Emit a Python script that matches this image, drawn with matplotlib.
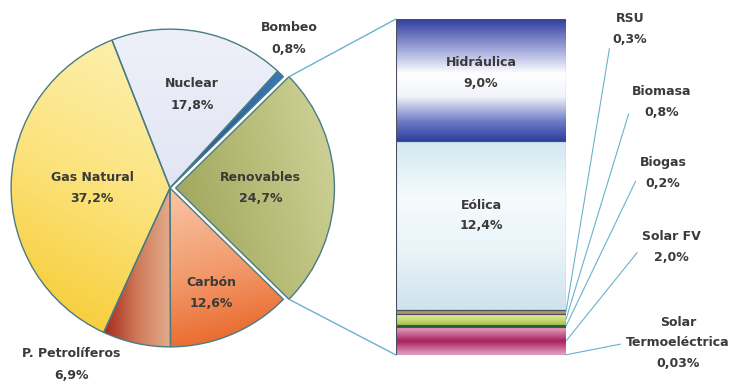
import numpy as np
import matplotlib.pyplot as plt
from matplotlib.colors import LinearSegmentedColormap
from matplotlib.patches import ConnectionPatch

# --- Data ---
pie_labels = ["Renovables", "Bombeo", "Nuclear", "Gas Natural", "P. Petrolíferos", "Carbón"]
pie_values = [24.7, 0.8, 17.8, 37.2, 6.9, 12.6]

# breakdown of "Renovables", bottom to top of the bar
bar_labels = ["Solar\nTermoeléctrica", "Solar FV", "Biogas", "Biomasa", "RSU", "Eólica", "Hidráulica"]
bar_values = [0.03, 2.0, 0.2, 0.8, 0.3, 12.4, 9.0]


def fmt(v):
    s = "%.2f" % v if v < 0.1 else "%.1f" % v
    return s.replace(".", ",") + "%"


# --- Styles ---
pie_grads = {
    "Renovables": (["#9aa256", "#b6bb76", "#d2d59c"], 20),
    "Bombeo": (["#1d4f8c", "#3a78b8"], 0),
    "Nuclear": (["#e2e5f4", "#eef0f9"], 90),
    "Gas Natural": (["#f6c92c", "#fbe27a", "#fdf2b6"], 75),
    "P. Petrolíferos": (["#a8281c", "#cf7a58", "#e3ad8e"], 0),
    "Carbón": (["#e85e1c", "#f29a6c", "#f8c6a6"], 100),
}
pie_label_pos = {
    "Renovables": (0.57, 0.0),
    "Bombeo": (0.75, 0.94),
    "Nuclear": (0.14, 0.59),
    "Gas Natural": (-0.49, 0.0),
    "P. Petrolíferos": (-0.62, -1.11),
    "Carbón": (0.26, -0.66),
}
bar_grads = {
    "Solar\nTermoeléctrica": (["#2a3040", "#2a3040"], 90),
    "Solar FV": (["#e6a6c4", "#a8205e", "#e8a8c6"], 90),
    "Biogas": (["#1e5a28", "#2f7034"], 90),
    "Biomasa": (["#a6c44c", "#e6f0a2"], 90),
    "RSU": (["#b89060", "#b89060"], 90),
    "Eólica": (["#cde3ee", "#e8f3f8", "#f6fbfd", "#d2e8f1"], 90),
    "Hidráulica": ([(0, "#3040a0"), (0.15, "#6a78c4"), (0.36, "#f2f3fa"),
                    (0.55, "#ffffff"), (0.76, "#9aa2d8"), (1, "#2e3c9c")], 90),
}
# label text centres (figure pixels, from the top) for the small renewables
side_label_pos = {
    "RSU": (630, 29),
    "Biomasa": (662, 102),
    "Biogas": (663, 173),
    "Solar FV": (671, 247),
    "Solar\nTermoeléctrica": (678, 343),
}

edge = "#4a7c84"
text_c = "#3a3a3a"
line_c = "#6ab2cc"
fs = 9
plt.rcParams["font.family"] = ["DejaVu Sans"]
plt.rcParams["font.weight"] = "bold"


def gradient_fill(ax, patch, colors, angle, zorder):
    cmap = LinearSegmentedColormap.from_list("g", colors)
    bb = patch.get_path().get_extents(patch.get_patch_transform())
    yy, xx = np.mgrid[0:1:200j, 0:1:200j]
    a = np.deg2rad(angle)
    t = xx * np.cos(a) + yy * np.sin(a)
    t = (t - t.min()) / (t.max() - t.min())
    im = ax.imshow(cmap(t), extent=[bb.x0, bb.x1, bb.y0, bb.y1], origin="lower",
                   aspect="auto", zorder=zorder, interpolation="bilinear")
    im.set_clip_path(patch)


W, H = 739, 387
fig = plt.figure(figsize=(W / 100, H / 100), dpi=100)

# --- Pie ---
lim = 1.07
ax_pie = fig.add_axes([0 / W, 29 / H, 340 / W, 340 / H])
explode = [0.035 if l == "Renovables" else 0 for l in pie_labels]
wedges, _ = ax_pie.pie(pie_values, explode=explode, startangle=-pie_values[0] / 100 * 180,
                       counterclock=True, radius=1,
                       wedgeprops=dict(edgecolor=edge, linewidth=1.0))
for w, lab, v in zip(wedges, pie_labels, pie_values):
    w.set_facecolor("none")
    w.set_zorder(3)
    cols, ang = pie_grads[lab]
    gradient_fill(ax_pie, w, cols, ang, 2)
    x, y = pie_label_pos[lab]
    ax_pie.text(x, y, lab + "\n" + fmt(v), ha="center", va="center", fontsize=fs,
                color=text_c, linespacing=1.85, zorder=5)
ax_pie.set_xlim(-lim, lim)
ax_pie.set_ylim(-lim, lim)
ax_pie.set_aspect("auto")
ax_pie.axis("off")

# --- Stacked bar ---
total = sum(bar_values)
ax_bar = fig.add_axes([396 / W, (H - 355) / H, 170 / W, 336 / H])
bottom = 0
rects = {}
for lab, v in zip(bar_labels, bar_values):
    r = ax_bar.bar(0, v, bottom=bottom, width=1, facecolor="none",
                   edgecolor="#4a5060", linewidth=0.8, zorder=3)[0]
    cols, ang = bar_grads[lab]
    gradient_fill(ax_bar, r, cols, ang, 2)
    rects[lab] = (bottom, v)
    bottom += v
ax_bar.set_xlim(-0.5, 0.5)
ax_bar.set_ylim(0, total)
ax_bar.axis("off")

for lab in ["Hidráulica", "Eólica"]:
    b, v = rects[lab]
    ax_bar.text(0, b + v * 0.56, lab + "\n" + fmt(v), ha="center", va="center",
                fontsize=fs, color=text_c, linespacing=1.75, zorder=5)

# leader lines to small segments
for lab, (px, py) in side_label_pos.items():
    b, v = rects[lab]
    ax_bar.annotate(lab + "\n" + fmt(v), xy=(0.5, b + v / 2), xycoords="data",
                    xytext=(px, H - py), textcoords="figure pixels",
                    ha="center", va="center", fontsize=fs, color=text_c,
                    linespacing=1.75, annotation_clip=False,
                    arrowprops=dict(arrowstyle="-", color=line_c, lw=0.8,
                                    shrinkA=2, shrinkB=0, relpos=(0, 0.5)))

# --- Connection lines pie -> bar ---
ren = wedges[0]
cx, cy = ren.center
for th, yb in [(ren.theta2, total), (ren.theta1, 0)]:
    p = (cx + np.cos(np.deg2rad(th)), cy + np.sin(np.deg2rad(th)))
    con = ConnectionPatch(xyA=p, coordsA=ax_pie.transData, xyB=(-0.5, yb),
                          coordsB=ax_bar.transData, color=line_c, lw=1.0)
    fig.add_artist(con)

fig.savefig("out.png", dpi=100, facecolor="white")
